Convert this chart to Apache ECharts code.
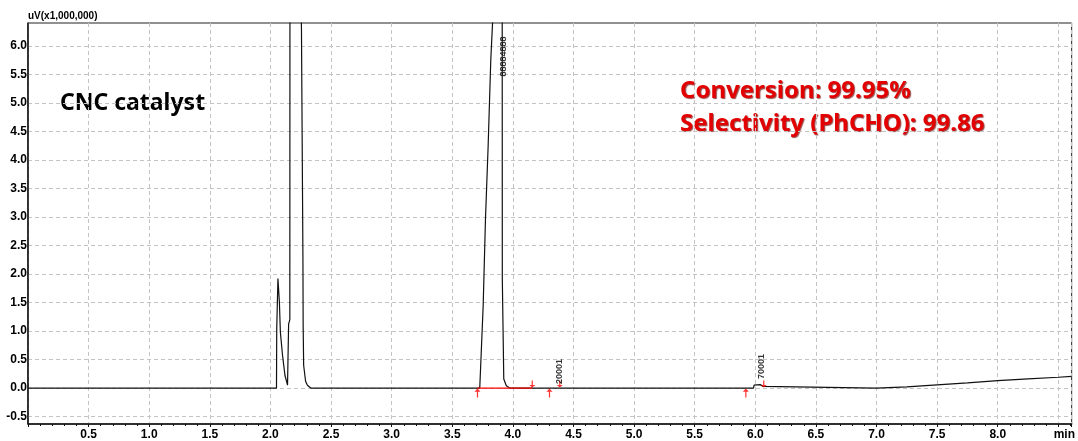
<!DOCTYPE html>
<html>
<head>
<meta charset="utf-8">
<script src="https://cdn.jsdelivr.net/npm/echarts@6/dist/echarts.min.js"></script>
<style>
  html, body { margin: 0; padding: 0; background: #fff; }
  #chart { width: 1078px; height: 441px; }
</style>
</head>
<body>
<div id="chart"></div>
<script>
// chromatogram trace (time in min, signal in uV x 1,000,000)
const traceTime = [
  0, 2.050, 2.052, 2.062, 2.066, 2.074, 2.082, 2.100, 2.120, 2.141,
  2.149, 2.150, 2.160, 2.161, 2.190, 2.220, 2.251, 2.256, 2.268, 2.270,
  2.274, 2.290, 2.305, 2.333, 3.727, 3.755, 3.774, 3.796, 3.818, 3.837,
  3.860, 3.890, 3.912, 3.913, 3.925, 3.946, 3.974, 4.370, 4.385, 4.400,
  5.985, 5.990, 6.000, 6.040, 6.065, 6.075, 7.000, 7.250, 7.500, 7.750,
  8.000, 8.250, 8.500, 8.610
]
const traceValue = [
  0, 0, 1.04, 1.92, 1.92, 1.50, 0.98, 0.57, 0.22, 0.05,
  0.05, 1.12, 1.20, 7.0, 40, 40, 7.0, 6.3, 2.3, 1.09,
  0.40, 0.12, 0.05, 0, 0, 1.44, 2.96, 4.24, 5.76, 6.6,
  25, 25, 7.0, 1.91, 0.16, 0.04, 0, 0, 0.02, 0,
  0, 0.05, 0.07, 0.06, 0.03, 0, 0, 0.02, 0.055, 0.09,
  0.13, 0.16, 0.19, 0.205
]

// integration marks
const baselineTime = [3.708, 4.160]
const peakStartTime = [3.708, 4.302, 5.922]
const peakEndTime = [4.160, 4.387, 6.070]

// peak labels
const peakLabelTime = [3.920, 4.385, 6.050]
const peakLabelValue = [5.46, 0.07, 0.16]
const peakLabelText = ['88884888', '20001', '70001']

// axes
const yTicks = [-0.5, 0, 0.5, 1.0, 1.5, 2.0, 2.5, 3.0, 3.5, 4.0, 4.5, 5.0, 5.5, 6.0]

const labelFont = 'Liberation Sans'
const arrowUp = 'path://M5,0 L0,5 L4,5 L4,14 L6,14 L6,5 L10,5 Z'
const arrowDown = 'path://M5,14 L0,9 L4,9 L4,0 L6,0 L6,9 L10,9 Z'

const chart = echarts.init(document.getElementById('chart'))

chart.setOption({
  animation: false,
  grid: {
    left: 28,
    right: 1,
    top: 23,
    bottom: 16,
    show: true,
    borderColor: '#222',
    borderWidth: 1
  },
  xAxis: {
    type: 'value',
    min: 0,
    max: 8.61,
    interval: 0.5,
    axisLine: { show: true, onZero: false, lineStyle: { color: '#111', width: 1.5 } },
    axisTick: { show: true, length: 3, lineStyle: { color: '#111' } },
    minorTick: { show: true, splitNumber: 5, length: 2, lineStyle: { color: '#111' } },
    splitLine: { show: true, lineStyle: { color: '#c4c4c4', type: [4, 3] } },
    axisLabel: {
      margin: 5,
      color: '#000',
      fontFamily: labelFont,
      fontWeight: 'bold',
      fontSize: 12,
      showMaxLabel: false,
      formatter(v) {
        if (v === 0) return ''
        if (Math.abs(v - 8.5) < 1e-6) return '{u|min}'
        return v.toFixed(1)
      },
      rich: {
        u: { fontFamily: labelFont, fontWeight: 'bold', fontSize: 12, color: '#000', padding: [0, 0, 0, 12] }
      }
    }
  },
  yAxis: {
    type: 'value',
    min: -0.63,
    max: 6.4,
    name: 'uV(x1,000,000)',
    nameLocation: 'end',
    nameGap: 2,
    nameTextStyle: {
      align: 'left',
      verticalAlign: 'bottom',
      color: '#000',
      fontFamily: labelFont,
      fontWeight: 'bold',
      fontSize: 10
    },
    axisLine: { show: true, onZero: false, lineStyle: { color: '#111', width: 1.5 } },
    axisTick: { show: false, customValues: yTicks },
    splitLine: { show: true, lineStyle: { color: '#c4c4c4', type: [4, 3] } },
    axisLabel: {
      customValues: yTicks,
      margin: 1,
      color: '#000',
      fontFamily: labelFont,
      fontWeight: 'bold',
      fontSize: 12,
      formatter(v) {
        return v.toFixed(1)
      }
    }
  },
  graphic: [
    {
      type: 'text',
      x: 60,
      y: 103,
      style: {
        text: 'CNC catalyst',
        font: 'bold 23px "Noto Sans"',
        fill: '#000',
        verticalAlign: 'middle'
      }
    },
    {
      type: 'text',
      x: 680,
      y: 91,
      style: {
        text: 'Conversion: 99.95%',
        font: 'bold 24px "Noto Sans"',
        fill: '#e30000',
        verticalAlign: 'middle',
        textShadowColor: 'rgba(110,0,0,0.7)',
        textShadowOffsetX: 1,
        textShadowOffsetY: 1,
        textShadowBlur: 1
      }
    },
    {
      type: 'text',
      x: 680,
      y: 124,
      style: {
        text: 'Selectivity (PhCHO): 99.86',
        font: 'bold 24px "Noto Sans"',
        fill: '#e30000',
        verticalAlign: 'middle',
        textShadowColor: 'rgba(110,0,0,0.7)',
        textShadowOffsetX: 1,
        textShadowOffsetY: 1,
        textShadowBlur: 1
      }
    }
  ],
  series: [
    {
      name: 'signal',
      type: 'line',
      showSymbol: false,
      clip: true,
      lineStyle: { color: '#111', width: 1.2 },
      data: traceTime.map((t, i) => [t, traceValue[i]]),
      z: 3
    },
    {
      name: 'baseline',
      type: 'line',
      showSymbol: false,
      lineStyle: { color: '#ff0000', width: 1.2 },
      data: baselineTime.map(t => [t, 0]),
      z: 4
    },
    {
      name: 'peakStart',
      type: 'scatter',
      symbol: arrowUp,
      symbolSize: [6, 9],
      symbolOffset: [0, 5],
      itemStyle: { color: '#ff0000' },
      data: peakStartTime.map(t => [t, 0]),
      z: 5
    },
    {
      name: 'peakEnd',
      type: 'scatter',
      symbol: arrowDown,
      symbolSize: [6, 7],
      symbolOffset: [0, -4],
      itemStyle: { color: '#ff0000' },
      data: peakEndTime.map(t => [t, 0]),
      z: 5
    },
    {
      name: 'peakLabels',
      type: 'scatter',
      symbolSize: 0,
      data: peakLabelTime.map((t, i) => [t, peakLabelValue[i]]),
      label: {
        show: true,
        position: 'inside',
        rotate: 90,
        align: 'left',
        verticalAlign: 'middle',
        color: '#000',
        fontFamily: labelFont,
        fontWeight: 'bold',
        fontSize: 9,
        formatter(p) {
          return peakLabelText[p.dataIndex]
        }
      },
      z: 6
    }
  ]
})
</script>
</body>
</html>
